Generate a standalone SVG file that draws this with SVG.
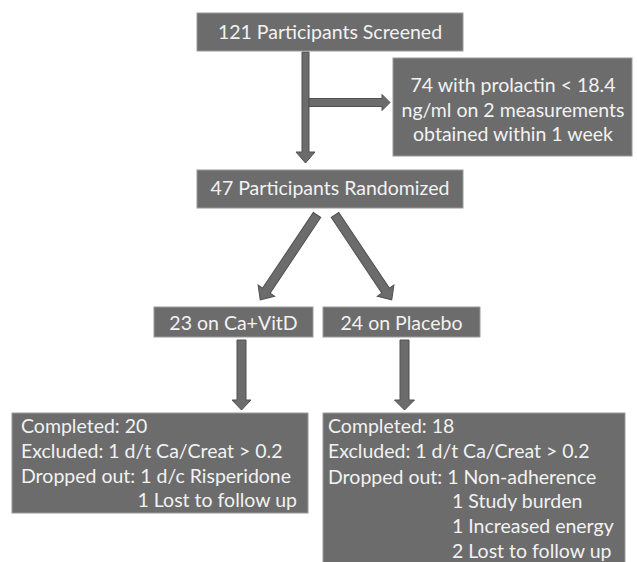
<svg xmlns="http://www.w3.org/2000/svg" width="637" height="562" viewBox="0 0 637 562">
<style>
.box{fill:#6c6c6c;stroke:#9a9a9a;stroke-width:1}
.t{font-family:Lato,"Open Sans","Liberation Sans",sans-serif;font-size:19.5px;fill:#f2f2f2}
.c{text-anchor:middle}
.arr{fill:#6c6c6c;stroke:#505050;stroke-width:1}
</style>
<rect width="637" height="562" fill="#ffffff"/>
<g id="connectors">
<path class="arr" d="M302,52 H309 V152 H315 L305.5,163 L296,152 H302 Z"/>
<path class="arr" d="M309,98.5 H382 V94.5 L390,102.5 L382,110.5 V106.5 H309 Z"/>
<path class="arr" transform="translate(317,215) rotate(33.8)" d="M-4.5,0 H4.5 V91 H10 L0,102 L-10,91 H-4.5 Z"/>
<path class="arr" transform="translate(335,215) rotate(-33.8)" d="M-4.5,0 H4.5 V91 H10 L0,102 L-10,91 H-4.5 Z"/>
<path class="arr" d="M237,340 H246 V400 H251 L241.5,410 L232,400 H237 Z"/>
<path class="arr" d="M400,340 H409 V400 H414.5 L404.5,410 L394.5,400 H400 Z"/>
</g>
<g id="screened">
<rect class="box" x="197" y="13" width="266" height="38"/>
<text class="t c" x="330" y="39">121 Participants Screened</text>
</g>
<g id="excluded-prolactin">
<rect class="box" x="393" y="58" width="239" height="98"/>
<text class="t c" x="513" y="92">74 with prolactin &lt; 18.4</text>
<text class="t c" x="513" y="117">ng/ml on 2 measurements</text>
<text class="t c" x="513" y="141">obtained within 1 week</text>
</g>
<g id="randomized">
<rect class="box" x="197" y="170" width="266" height="38"/>
<text class="t c" x="330" y="195">47 Participants Randomized</text>
</g>
<g id="cavitd">
<rect class="box" x="154" y="307" width="159" height="30"/>
<text class="t c" x="233.5" y="330">23 on Ca+VitD</text>
</g>
<g id="placebo">
<rect class="box" x="323" y="307" width="157" height="30"/>
<text class="t c" x="401.5" y="330">24 on Placebo</text>
</g>
<g id="cavitd-outcome">
<rect class="box" x="12" y="413" width="296" height="100"/>
<text class="t" x="21" y="433">Completed: 20</text>
<text class="t" x="21" y="458">Excluded: 1 d/t Ca/Creat &gt; 0.2</text>
<text class="t" x="21" y="483">Dropped out: 1 d/c Risperidone</text>
<text class="t" x="297" y="507" text-anchor="end">1 Lost to follow up</text>
</g>
<g id="placebo-outcome">
<rect class="box" x="323" y="413" width="302" height="152"/>
<text class="t" x="328" y="433">Completed: 18</text>
<text class="t" x="328" y="458">Excluded: 1 d/t Ca/Creat &gt; 0.2</text>
<text class="t" x="328" y="484">Dropped out: 1 Non-adherence</text>
<text class="t" x="452" y="508">1 Study burden</text>
<text class="t" x="452" y="533">1 Increased energy</text>
<text class="t" x="452" y="558">2 Lost to follow up</text>
</g>
</svg>
